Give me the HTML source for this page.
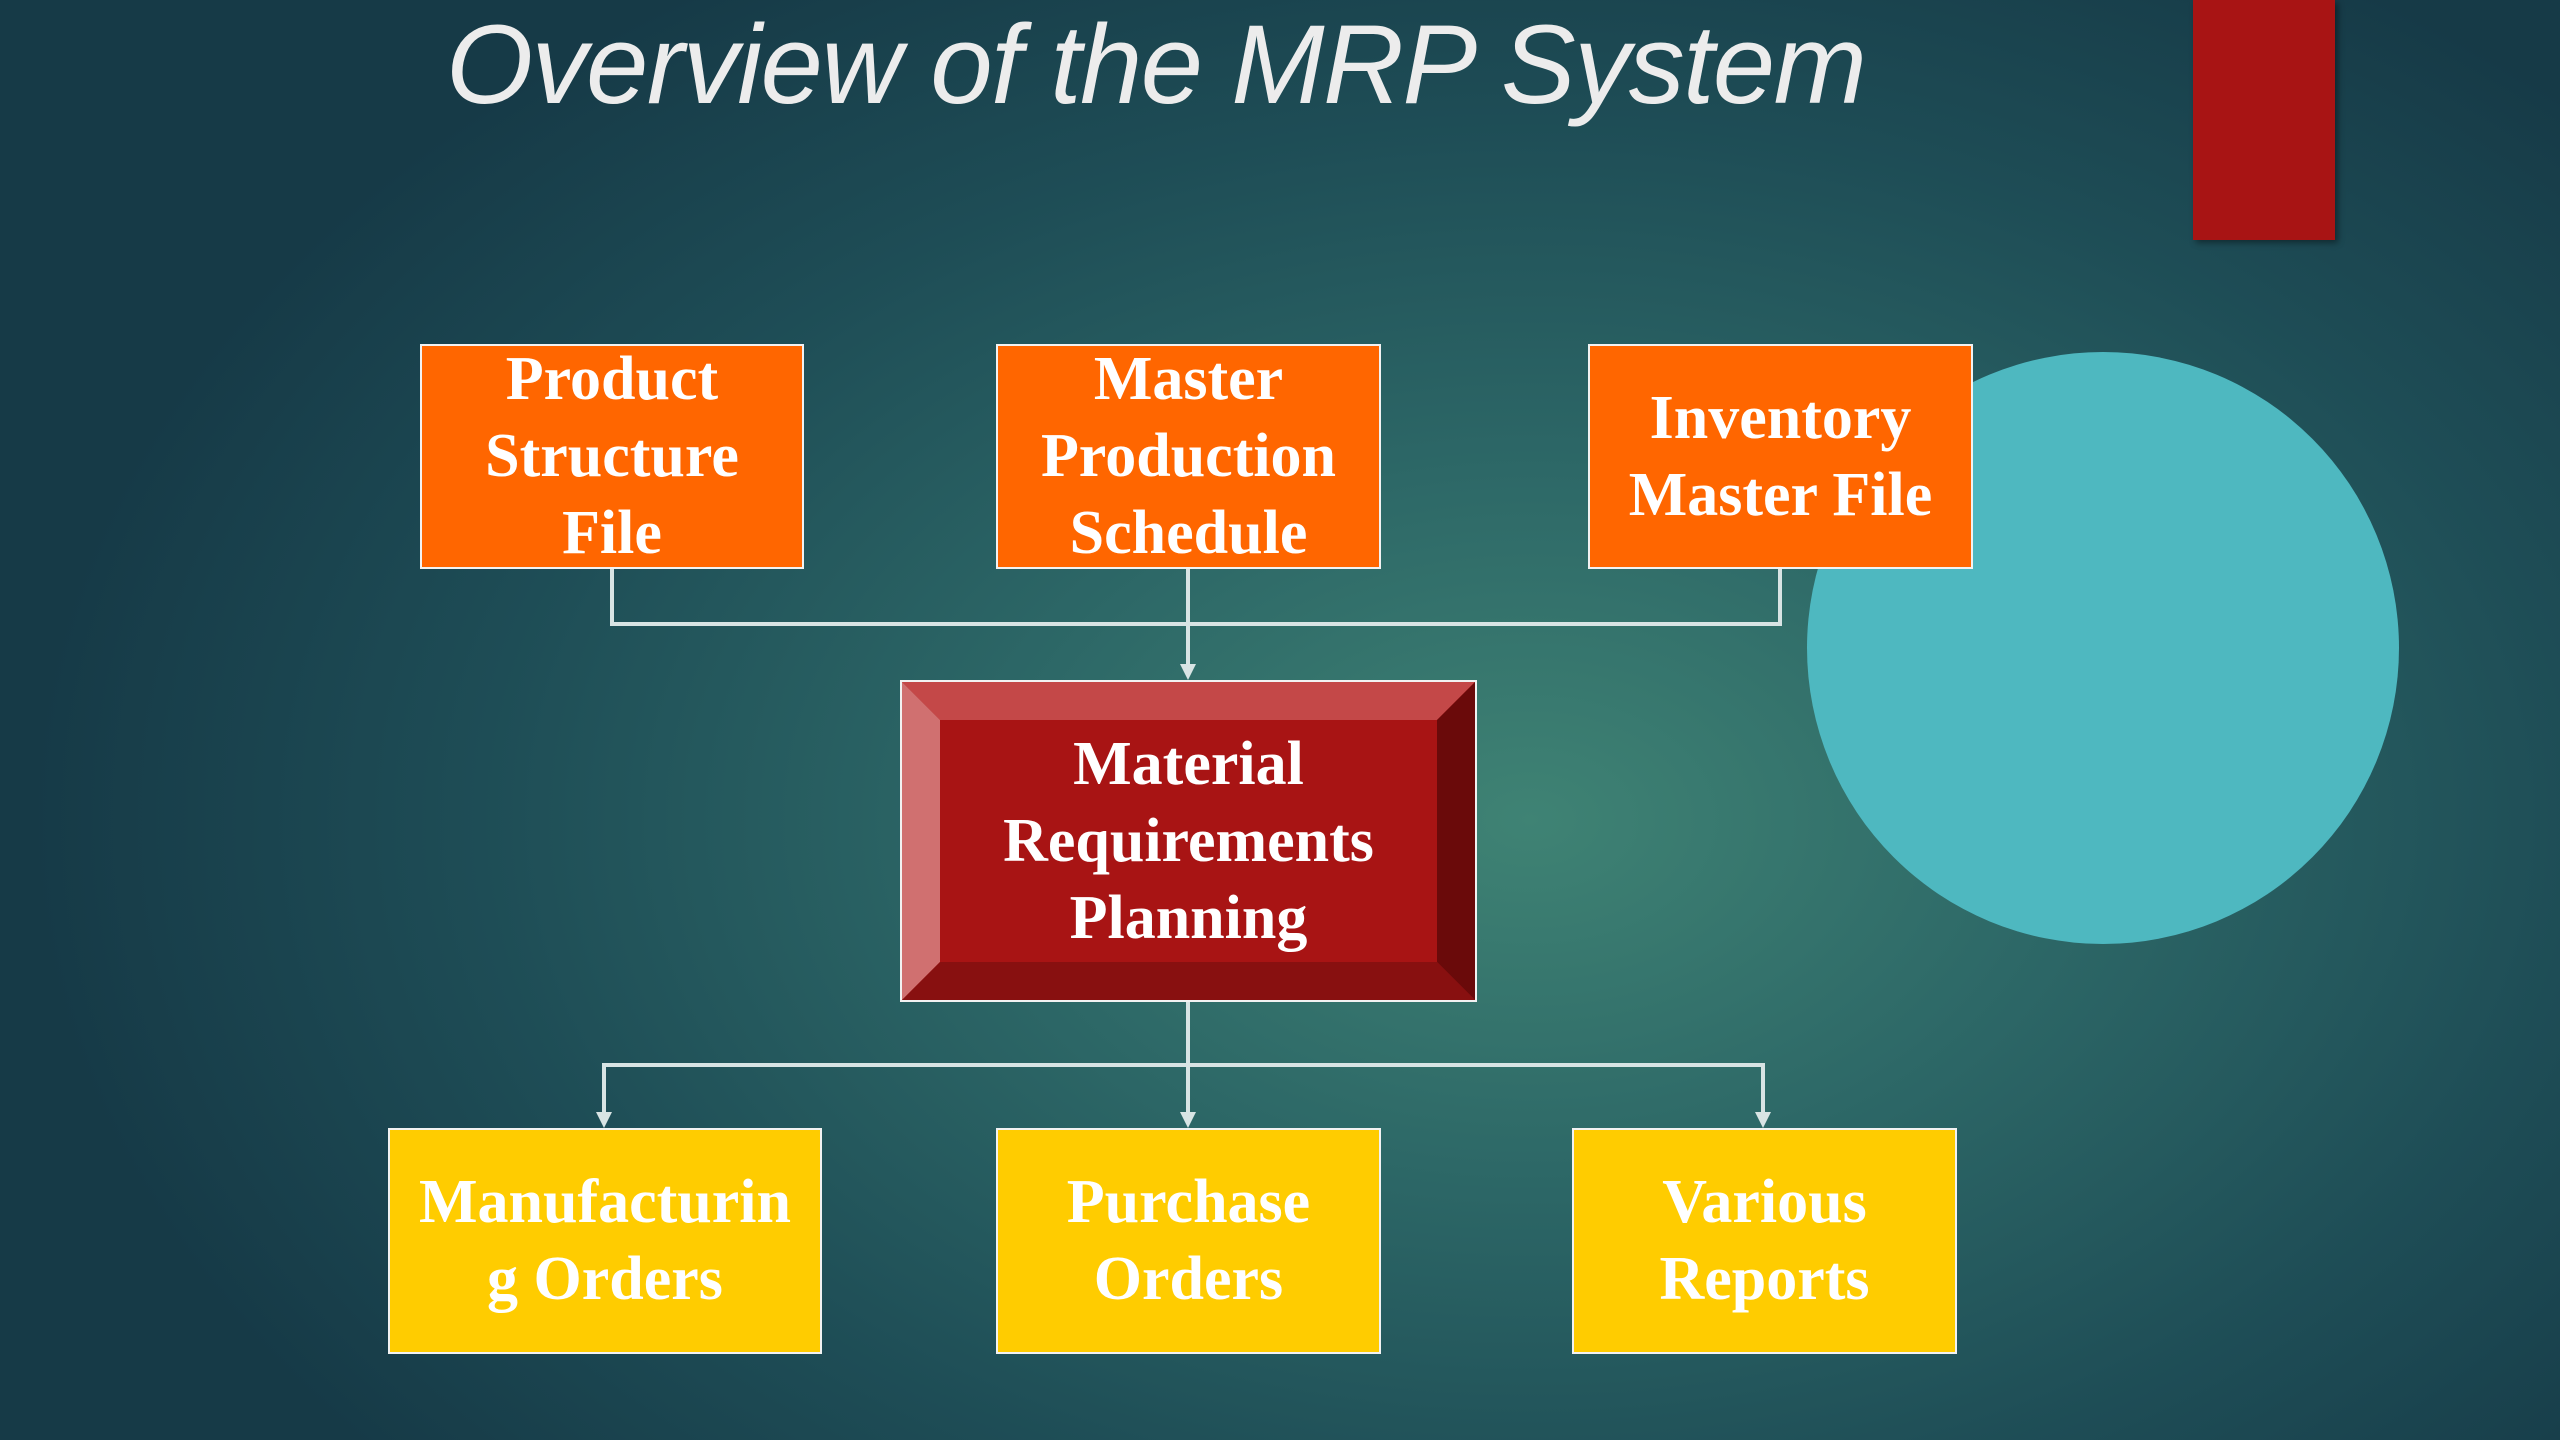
<!DOCTYPE html>
<html><head><style>
html,body{margin:0;padding:0}
body{width:2560px;height:1440px;position:relative;overflow:hidden;
background:radial-gradient(ellipse 1500px 1000px at 1530px 820px,#3f8374 0%,#2d6867 35%,#1e4d56 70%,#163a47 100%);
font-family:"Liberation Serif",serif;}
.t{position:absolute;left:446px;top:0px;font-family:"Liberation Sans",sans-serif;font-style:italic;font-size:112px;color:#ececec;letter-spacing:-1.5px;white-space:nowrap;}
.b{position:absolute;box-sizing:border-box;border:2px solid #f2f2f2;display:flex;align-items:center;justify-content:center;text-align:center;color:#fff;font-weight:bold;font-size:62px;line-height:77px;}
.o{background:#ff6600}
.y{background:#ffcc00}
</style></head><body>
<div class="t">Overview of the MRP System</div>
<div style="position:absolute;left:2193px;top:0;width:142px;height:240px;background:#a81414;box-shadow:3px 3px 6px rgba(0,0,0,.4)"></div>
<div style="position:absolute;left:1807px;top:352px;width:592px;height:592px;border-radius:50%;background:#4eb8c0"></div>

<div class="b o" style="left:420px;top:344px;width:384px;height:225px">Product<br>Structure<br>File</div>
<div class="b o" style="left:996px;top:344px;width:385px;height:225px">Master<br>Production<br>Schedule</div>
<div class="b o" style="left:1588px;top:344px;width:385px;height:225px">Inventory<br>Master File</div>

<svg style="position:absolute;left:0;top:0" width="2560" height="1440">
<g stroke="#d8e4e4" stroke-width="4" fill="none">
<polyline points="612,569 612,624 1780,624 1780,569"/>
<line x1="1188" y1="569" x2="1188" y2="668"/>
<line x1="1188" y1="1001" x2="1188" y2="1115"/>
<polyline points="604,1115 604,1065 1763,1065 1763,1115"/>
</g>
<g fill="#d8e4e4">
<polygon points="1180,664 1196,664 1188,680"/>
<polygon points="596,1112 612,1112 604,1128"/>
<polygon points="1180,1112 1196,1112 1188,1128"/>
<polygon points="1755,1112 1771,1112 1763,1128"/>
</g>
<g>
<rect x="901" y="681" width="575" height="320" fill="#a81414"/>
<polygon points="901,681 1476,681 1437,720 940,720" fill="#c44848"/>
<polygon points="901,681 940,720 940,962 901,1001" fill="#d07070"/>
<polygon points="1476,681 1476,1001 1437,962 1437,720" fill="#6a0a0a"/>
<polygon points="901,1001 940,962 1437,962 1476,1001" fill="#881010"/>
<rect x="901" y="681" width="575" height="320" fill="none" stroke="#f2f2f2" stroke-width="2"/>
</g>
</svg>
<div class="b" style="left:940px;top:720px;width:497px;height:242px;border:none">Material<br>Requirements<br>Planning</div>

<div class="b y" style="left:388px;top:1128px;width:434px;height:226px">Manufacturin<br>g Orders</div>
<div class="b y" style="left:996px;top:1128px;width:385px;height:226px">Purchase<br>Orders</div>
<div class="b y" style="left:1572px;top:1128px;width:385px;height:226px">Various<br>Reports</div>
</body></html>
